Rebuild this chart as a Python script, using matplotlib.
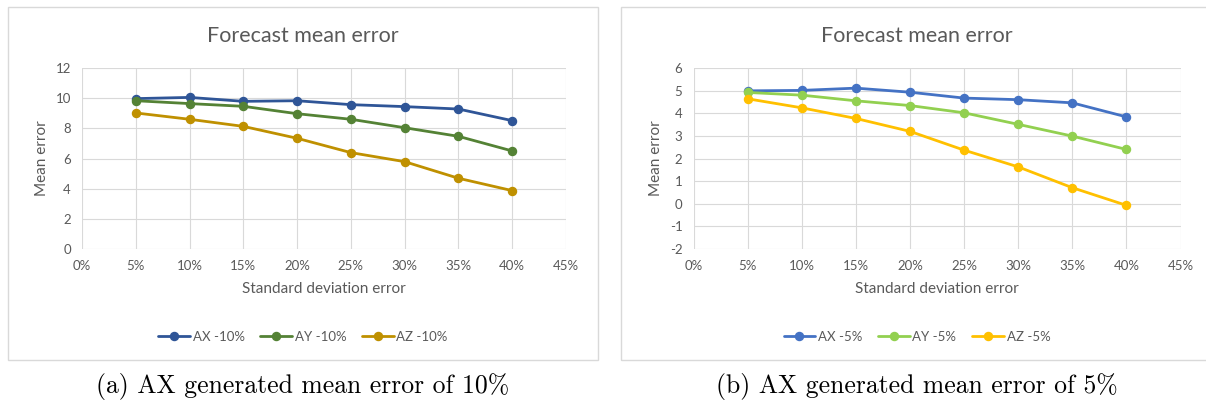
import matplotlib
matplotlib.use("Agg")
import matplotlib.pyplot as plt
from matplotlib.patches import Rectangle

plt.rcParams['font.family'] = ['Lato', 'DejaVu Sans']
plt.rcParams['axes.unicode_minus'] = False

# --- dati ---
sd_error = [5, 10, 15, 20, 25, 30, 35, 40]  # percentuali

ax_10 = [9.97, 10.05, 9.79, 9.83, 9.57, 9.44, 9.28, 8.51]
ay_10 = [9.83, 9.64, 9.46, 8.97, 8.60, 8.04, 7.47, 6.50]
az_10 = [9.02, 8.60, 8.13, 7.34, 6.39, 5.79, 4.69, 3.87]

ax_5 = [4.99, 5.01, 5.11, 4.93, 4.67, 4.60, 4.46, 3.84]
ay_5 = [4.92, 4.80, 4.55, 4.34, 4.02, 3.51, 2.99, 2.40]
az_5 = [4.64, 4.24, 3.77, 3.20, 2.37, 1.63, 0.71, -0.07]

x_ticks = [0, 5, 10, 15, 20, 25, 30, 35, 40, 45]

W, H = 1206, 405
fig = plt.figure(figsize=(W / 100, H / 100), dpi=100)


def px_box(x0, y0, x1, y1):
    # da pixel (origine in alto a sinistra) a frazione di figura
    return [x0 / W, 1 - y1 / H, (x1 - x0) / W, (y1 - y0) / H]


def pannello(box, serie, colori, etichette, yticks, chart_x0, chart_x1, didascalia):
    ax = fig.add_axes(px_box(*box))
    for y, c, lab in zip(serie, colori, etichette):
        ax.plot(sd_error, y, color=c, lw=2.0, marker='o', ms=5.8, label=lab,
                solid_capstyle='round', zorder=3)
    ax.set_xlim(0, 45)
    ax.set_ylim(yticks[0], yticks[-1])
    ax.set_xticks(x_ticks)
    ax.set_xticklabels([f"{t}%" for t in x_ticks])
    ax.set_yticks(yticks)
    ax.grid(True, color='#d9d9d9', lw=0.8)
    for s in ax.spines.values():
        s.set_visible(False)
    ax.tick_params(length=0, labelsize=9.5, colors='#595959', pad=8)
    ax.set_xlabel("Standard deviation error", fontsize=11, color='#595959', labelpad=7)
    ax.set_ylabel("Mean error", fontsize=11, color='#595959', labelpad=5)

    cx = (chart_x0 + chart_x1) / 2 / W
    fig.text(cx, 1 - 36 / H, "Forecast mean error", ha='center', va='center',
             fontsize=15.5, color='#595959')
    h, l = ax.get_legend_handles_labels()
    fig.legend(h, l, loc='center', bbox_to_anchor=(cx, 1 - 337 / H), ncol=3,
               frameon=False, fontsize=9.5, handlelength=2.4, columnspacing=1.2,
               handletextpad=0.2, labelcolor='#595959')
    # bordo del grafico
    fig.patches.append(Rectangle((chart_x0 / W, 1 - 360 / H), (chart_x1 - chart_x0) / W,
                                 353 / H, transform=fig.transFigure, fill=False,
                                 ec='#d9d9d9', lw=1.0))
    fig.text(cx, 1 - 386 / H, didascalia, ha='center', va='center',
             fontsize=18.5, family='cmr10')
    return ax


pannello((82, 68, 566, 249), [ax_10, ay_10, az_10],
         ['#2f5597', '#548235', '#bf9000'],
         ['AX -10%', 'AY -10%', 'AZ -10%'],
         list(range(0, 13, 2)), 8, 598, "(a) AX generated mean error of 10%")

pannello((693.5, 68, 1180.5, 249), [ax_5, ay_5, az_5],
         ['#4472c4', '#92d050', '#ffc000'],
         ['AX -5%', 'AY -5%', 'AZ -5%'],
         list(range(-2, 7)), 621, 1213, "(b) AX generated mean error of 5%")

fig.savefig("out.png", dpi=100)
